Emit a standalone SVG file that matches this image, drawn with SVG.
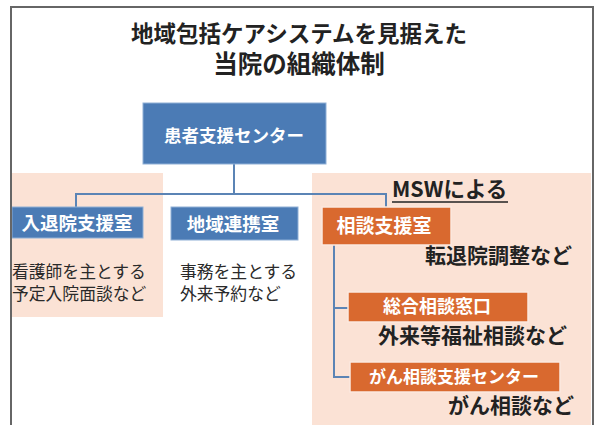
<svg xmlns="http://www.w3.org/2000/svg" width="595" height="425" viewBox="0 0 595 425">
<style>
text{font-family:"Noto Sans CJK JP","Noto Sans",sans-serif}
.title{font-size:22.5px;font-weight:bold;fill:#222;text-anchor:middle}
.blue{fill:#4b7bb5;stroke:#8fb0d6;stroke-width:1}
.orange{fill:#d9692f;stroke:#fbe9df;stroke-width:1.5}
.lbl{fill:#fff;text-anchor:middle;font-weight:bold}
.desc{font-size:16.8px;fill:#2a2a2a}
.bold{font-size:21px;font-weight:bold;fill:#222}
.pink{fill:#fbe2d5}
.conn{fill:none;stroke:#5b84b5;stroke-width:2}
</style>
<rect x="0" y="0" width="595" height="425" fill="#fff"/>
<rect class="pink" x="12" y="173" width="151" height="144"/>
<rect class="pink" x="312" y="173" width="279" height="252"/>
<text class="title"><tspan x="299" y="42">地域包括ケアシステムを見据えた</tspan><tspan x="299" y="73" style="font-size:24.5px">当院の組織体制</tspan></text>
<g id="connectors">
<path class="conn" d="M234 164V194M76 207V194H386V208"/>
<path class="conn" d="M334 245V377H350M334 308H348"/>
</g>
<g id="center">
<rect class="blue" x="143" y="103" width="183" height="61"/>
<text class="lbl" x="234" y="142" font-size="17.5" font-weight="normal">患者支援センター</text>
</g>
<g id="nyutaiin">
<rect class="blue" x="12" y="207" width="131" height="31"/>
<text class="lbl" x="77" y="230" font-size="18.5">入退院支援室</text>
<text class="desc"><tspan x="12" y="278">看護師を主とする</tspan><tspan x="12" y="300">予定入院面談など</tspan></text>
</g>
<g id="chiiki">
<rect class="blue" x="171" y="207" width="127" height="33"/>
<text class="lbl" x="233" y="231" font-size="18.5">地域連携室</text>
<text class="desc"><tspan x="180" y="278">事務を主とする</tspan><tspan x="180" y="300">外来予約など</tspan></text>
</g>
<g id="msw">
<text x="392" y="197" font-size="21.5" font-weight="bold" fill="#222">MSWによる</text>
<line x1="392" y1="202" x2="508" y2="202" stroke="#222" stroke-width="1.5"/>
</g>
<g id="soudan">
<rect class="orange" x="322" y="207" width="129" height="38"/>
<text class="lbl" x="384" y="233" font-size="19">相談支援室</text>
<text class="bold" x="425" y="263">転退院調整など</text>
</g>
<g id="sougou">
<rect class="orange" x="348" y="292" width="180" height="30"/>
<text class="lbl" x="437" y="313" font-size="18">総合相談窓口</text>
<text class="bold" x="378" y="343">外来等福祉相談など</text>
</g>
<g id="gan">
<rect class="orange" x="350" y="362" width="210" height="30"/>
<text class="lbl" x="454" y="383" font-size="17">がん相談支援センター</text>
<text class="bold" x="448" y="413">がん相談など</text>
</g>
<path d="M11 440V7H593V440" fill="none" stroke="#666" stroke-width="2"/>
</svg>
